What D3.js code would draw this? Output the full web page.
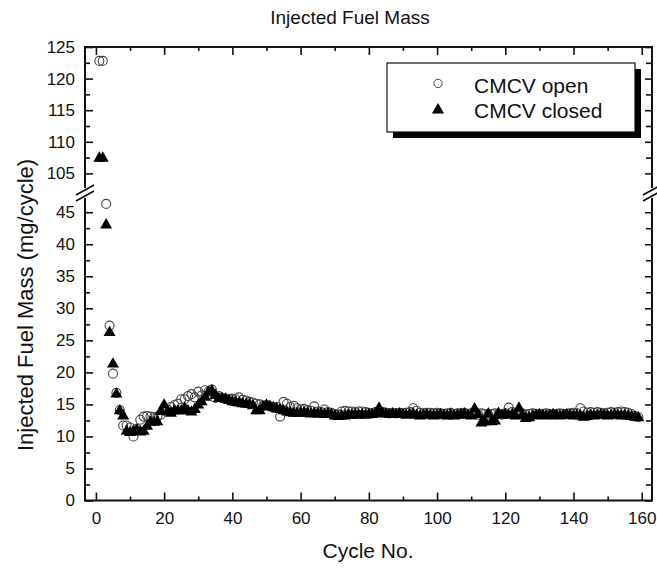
<!DOCTYPE html>
<html><head><meta charset="utf-8">
<script src="https://cdn.jsdelivr.net/npm/d3@7"></script>
<style>body{margin:0;background:#fff}svg{display:block}</style>
</head><body><svg id="c" width="657" height="569"></svg>
<script>
// ---- data ----
const cycles = d3.range(1, 160);
const openValues = [
122.8,122.8,46.3,27.3,19.8,16.8,14.1,11.7,11.7,11.4,
10.0,11.2,12.6,13.1,13.2,13.1,13.0,13.1,13.4,14.0,
14.2,14.6,14.9,15.1,15.8,15.8,16.3,16.6,16.1,17.0,
16.4,17.2,17.0,17.3,16.0,16.3,16.0,15.9,15.8,15.9,
15.8,16.1,15.7,15.6,15.4,15.3,15.1,15.0,14.8,14.9,
14.7,14.5,14.6,13.1,15.4,15.1,14.6,14.8,14.4,14.2,
14.3,14.1,14.0,14.7,13.9,13.8,14.2,13.8,13.7,13.5,
13.4,13.9,14.0,13.9,13.9,13.8,13.9,13.9,13.8,13.7,
13.6,13.8,13.7,13.8,13.7,13.6,13.7,13.6,13.7,13.6,
13.7,13.8,14.4,14.0,13.7,13.6,13.7,13.7,13.6,13.7,
13.6,13.5,13.6,13.7,13.5,13.6,13.6,13.7,13.5,13.6,
13.5,13.4,13.6,13.5,13.4,13.5,13.6,13.5,13.4,13.6,
14.5,13.8,13.6,13.5,13.6,13.4,13.5,13.6,13.5,13.4,
13.5,13.6,13.5,13.4,13.5,13.6,13.5,13.5,13.6,13.7,
13.6,14.4,13.9,13.7,13.8,13.7,13.8,13.7,13.6,13.7,
13.8,13.7,13.8,13.9,13.8,13.7,13.5,13.2,13.0];
const closedValues = [
107.4,107.4,43.0,26.2,21.3,16.6,14.0,13.2,10.8,10.6,
10.8,11.0,10.7,10.8,11.6,12.2,12.2,12.3,13.9,14.9,
13.9,13.6,14.0,14.0,14.0,14.4,14.0,13.8,14.2,14.9,
15.4,16.1,16.9,17.1,16.4,15.9,15.9,15.8,15.6,15.4,
15.3,15.2,15.1,15.0,15.0,14.8,14.0,14.0,14.6,14.9,
14.7,14.5,14.3,14.2,14.0,13.8,13.7,13.6,13.6,13.6,
13.7,13.6,13.5,13.6,13.5,13.5,13.4,13.5,13.4,13.2,
13.1,13.2,13.2,13.3,13.3,13.4,13.3,13.4,13.3,13.4,
13.4,13.6,14.4,13.6,13.5,13.4,13.5,13.4,13.5,13.4,
13.3,13.4,13.5,13.3,13.2,13.3,13.4,13.3,13.2,13.3,
13.4,13.3,13.2,13.4,13.2,13.3,13.4,13.5,13.3,13.2,
14.3,13.4,12.1,12.3,13.5,12.3,12.4,13.6,13.3,13.4,
13.3,13.4,13.2,14.4,13.3,12.8,12.9,13.2,13.3,13.4,
13.3,13.2,13.3,13.4,13.3,13.2,13.3,13.4,13.3,13.2,
13.3,13.2,13.0,13.1,13.3,13.2,13.3,13.4,13.3,13.2,
13.3,13.4,13.3,13.2,13.3,13.2,13.1,13.0,12.9];
const xTicks = [0,20,40,60,80,100,120,140,160];
const xMinorTicks = [10,30,50,70,90,110,130,150];
const yLowerTicks = [0,5,10,15,20,25,30,35,40,45];
const yLowerMinor = [2.5,7.5,12.5,17.5,22.5,27.5,32.5,37.5,42.5];
const yUpperTicks = [105,110,115,120,125];
const yUpperMinor = [107.5,112.5,117.5,122.5];
const seriesNames = ["CMCV open","CMCV closed"];
const titleText = "Injected Fuel Mass";
const xTitle = "Cycle No.";
const yTitle = "Injected Fuel Mass (mg/cycle)";

// ---- layout ----
const L = 85, R = 652, T = 47, B = 500.5, BRK = 193;
const FONT = "'Liberation Sans', Arial, Helvetica, sans-serif";
const svg = d3.select("#c").style("font-family", FONT);

const x = d3.scaleLinear().domain([-3.2, 163]).range([L, R]);
const yL = d3.scaleLinear().domain([0, 48]).range([B, BRK]);
const yU = d3.scaleLinear().domain([101.9, 125]).range([BRK, T]);
const y = v => v >= 100 ? yU(v) : yL(v);

// ticks
function styleAxis(g){ g.select(".domain").remove(); g.selectAll("line").attr("stroke","#111").attr("stroke-width",1.6);
  g.selectAll("text").attr("font-family",FONT).attr("fill","#111"); }
svg.append("g").attr("transform",`translate(0,${B})`)
  .call(d3.axisBottom(x).tickValues(xTicks).tickSize(-8).tickPadding(11).tickFormat(d3.format("d")))
  .call(styleAxis).selectAll("text").attr("font-size",17);
svg.append("g").attr("transform",`translate(0,${B})`)
  .call(d3.axisBottom(x).tickValues(xMinorTicks).tickSize(-4).tickFormat("")).call(styleAxis);
svg.append("g").attr("transform",`translate(0,${T})`)
  .call(d3.axisTop(x).tickValues(xTicks).tickSize(-8).tickFormat("")).call(styleAxis);
svg.append("g").attr("transform",`translate(0,${T})`)
  .call(d3.axisTop(x).tickValues(xMinorTicks).tickSize(-4).tickFormat("")).call(styleAxis);

[[yL,yLowerTicks,yLowerMinor],[yU,yUpperTicks,yUpperMinor]].forEach(([sc,maj,mn])=>{
  svg.append("g").attr("transform",`translate(${L},0)`)
    .call(d3.axisLeft(sc).tickValues(maj).tickSize(-8).tickPadding(10).tickFormat(d3.format("d")))
    .call(styleAxis).selectAll("text").attr("font-size",17);
  svg.append("g").attr("transform",`translate(${L},0)`)
    .call(d3.axisLeft(sc).tickValues(mn).tickSize(-5).tickFormat("")).call(styleAxis);
  svg.append("g").attr("transform",`translate(${R},0)`)
    .call(d3.axisRight(sc).tickValues(maj).tickSize(-7).tickFormat("")).call(styleAxis);
  svg.append("g").attr("transform",`translate(${R},0)`)
    .call(d3.axisRight(sc).tickValues(mn).tickSize(-6).tickFormat("")).call(styleAxis);
});

// frame with breaks
const frame = svg.append("g").attr("stroke","#111").attr("stroke-width",2).attr("fill","none");
frame.append("path").attr("d",`M${L},${BRK-5}V${T}H${R}V${BRK-5}`);
frame.append("path").attr("d",`M${L},${BRK+5}V${B}H${R}V${BRK+5}`);
[L,R].forEach(ax=>{
  [-3,3].forEach(o=>{
    frame.append("line").attr("x1",ax-9).attr("y1",BRK+o+5).attr("x2",ax+9).attr("y2",BRK+o-5).attr("stroke-width",1.8);
  });
});

// data
const openData = cycles.map((c,i)=>({c, v:openValues[i]}));
const closedData = cycles.map((c,i)=>({c, v:closedValues[i]}));
svg.append("g").selectAll("circle").data(openData).join("circle")
  .attr("cx",d=>x(d.c)).attr("cy",d=>y(d.v)).attr("r",4.5)
  .attr("fill","none").attr("stroke","#444").attr("stroke-width",1.1);
const tri = d3.symbol(d3.symbolTriangle).size(62);
svg.append("g").selectAll("path").data(closedData).join("path")
  .attr("d",tri).attr("transform",d=>`translate(${x(d.c)},${y(d.v)})`).attr("fill","#000");

// legend
const lg = svg.append("g");
lg.append("rect").attr("x",393).attr("y",69).attr("width",248).attr("height",69).attr("fill","#000");
lg.append("rect").attr("x",387).attr("y",63).attr("width",248).attr("height",69).attr("fill","#fff").attr("stroke","#111").attr("stroke-width",1.2);
lg.append("circle").attr("cx",438).attr("cy",83.5).attr("r",4.2).attr("fill","none").attr("stroke","#444").attr("stroke-width",1);
lg.append("path").attr("d",d3.symbol(d3.symbolTriangle).size(64)).attr("transform","translate(438,110)").attr("fill","#000");
lg.selectAll("text").data(seriesNames).join("text")
  .attr("x",474).attr("y",(d,i)=>93+i*25).attr("font-size",21).attr("fill","#111").text(d=>d);

// titles
svg.append("text").attr("x",350).attr("y",24).attr("text-anchor","middle").attr("font-size",19).attr("fill","#111").text(titleText);
svg.append("text").attr("x",368).attr("y",558).attr("text-anchor","middle").attr("font-size",21).attr("fill","#111").text(xTitle);
svg.append("text").attr("transform","translate(33,305) rotate(-90)").attr("text-anchor","middle").attr("font-size",22).attr("fill","#111").text(yTitle);
</script></body></html>
